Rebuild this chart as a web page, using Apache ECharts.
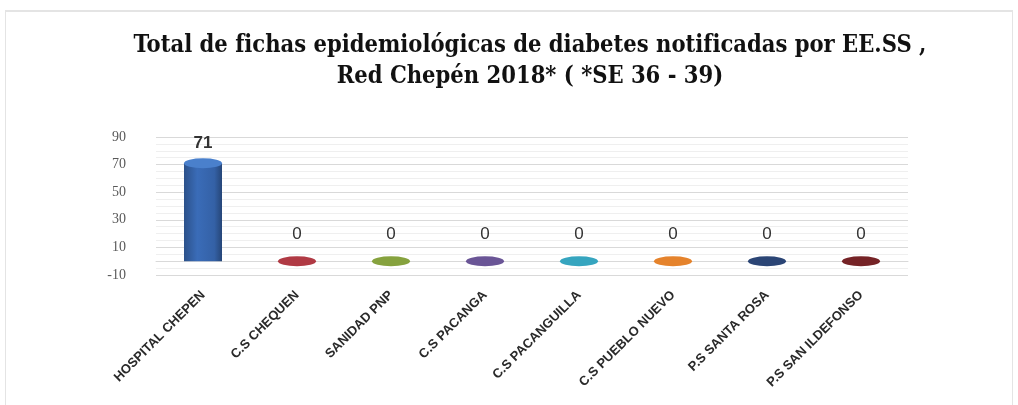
<!DOCTYPE html>
<html lang="es">
<head>
    <meta charset="UTF-8">
    <title>Fichas diabetes</title>
    <script src="https://cdn.jsdelivr.net/npm/echarts@6/dist/echarts.min.js"></script>
    <style>
        *{
            padding:0;
            margin:0;
        }
        html,body{
            width:1018px;
            height:405px;
            background:#fff;
            overflow:hidden;
        }
        #frame{
            position:absolute;
            left:5px;
            top:10px;
            width:1006px;
            height:400px;
            border-top:2px solid #e4e4e4;
            border-left:1px solid #e4e4e4;
            border-right:1px solid #e4e4e4;
        }
        #main{
            position:absolute;
            left:0;
            top:0;
            width:1018px;
            height:405px;
        }
    </style>
</head>
<body>
<div id="frame"></div>
<div id="main"></div>
<script>
    var titleLines = ['Total de fichas epidemiológicas de diabetes notificadas por EE.SS ,', 'Red Chepén 2018* ( *SE 36 - 39)'];
    var categories = ['HOSPITAL CHEPEN', 'C.S CHEQUEN', 'SANIDAD PNP', 'C.S PACANGA', 'C.S PACANGUILLA', 'C.S PUEBLO NUEVO', 'P.S SANTA ROSA', 'P.S SAN ILDEFONSO'];
    var values = [71, 0, 0, 0, 0, 0, 0, 0];
    var colors = ['#3a6cb8', '#a3303a', '#7b9636', '#5e4a8a', '#2c98b2', '#dd7a25', '#223a66', '#681b1e'];
    var topColors = ['#4a80cc', '#b03a44', '#86a23e', '#6a5596', '#36a5bf', '#e5832c', '#2b4575', '#752326'];

    function shade(c, k) {
        var n = parseInt(c.slice(1), 16);
        var r = Math.round(((n >> 16) & 255) * k), g = Math.round(((n >> 8) & 255) * k), b = Math.round((n & 255) * k);
        return 'rgb(' + r + ',' + g + ',' + b + ')';
    }

    // cuerpo del cilindro
    var barData = values.map(function (v, i) {
        return {
            value: v,
            itemStyle: {
                color: new echarts.graphic.LinearGradient(0, 0, 1, 0, [
                    {offset: 0, color: shade(colors[i], 0.75)},
                    {offset: 0.35, color: colors[i]},
                    {offset: 0.8, color: shade(colors[i], 0.9)},
                    {offset: 1, color: shade(colors[i], 0.65)}
                ])
            }
        };
    });
    // tapa superior (para los ceros es todo lo que se ve)
    var capData = values.map(function (v, i) {
        return {
            value: v,
            itemStyle: {color: topColors[i]},
            label: {
                distance: v > 0 ? 6 : 13,
                fontWeight: v > 0 ? 'bold' : 'normal'
            }
        };
    });

    var myChart = echarts.init(document.getElementById('main'));
    var option = {
        animation: false,
        title: {
            text: titleLines.join('\n'),
            left: 525,
            textAlign: 'center',
            top: 25,
            textStyle: {
                fontFamily: 'DejaVu Serif Condensed',
                fontWeight: 'bold',
                fontSize: 23.5,
                lineHeight: 31,
                color: '#111'
            }
        },
        grid: {
            left: 156,
            right: 110,
            top: 137,
            bottom: 130
        },
        xAxis: {
            type: 'category',
            data: categories,
            axisLine: {show: true, lineStyle: {color: '#d9d9d9'}},
            axisTick: {show: false},
            axisLabel: {
                rotate: 45,
                interval: 0,
                margin: 18,
                fontFamily: 'Liberation Sans',
                fontWeight: 'bold',
                fontSize: 13,
                color: '#2a2a2a'
            }
        },
        yAxis: {
            type: 'value',
            min: -10,
            max: 90,
            interval: 20,
            axisLine: {show: false},
            axisTick: {show: false},
            axisLabel: {
                fontFamily: 'Liberation Serif',
                fontSize: 14,
                color: '#595959',
                margin: 30
            },
            splitLine: {lineStyle: {color: '#d9d9d9'}},
            minorTick: {show: false, splitNumber: 4},
            minorSplitLine: {show: true, lineStyle: {color: '#efefef'}}
        },
        series: [
            {
                name: 'fichas',
                type: 'bar',
                barWidth: 38,
                data: barData,
                z: 2
            },
            {
                name: 'tapa',
                type: 'pictorialBar',
                symbol: 'circle',
                symbolSize: [38, 10],
                symbolPosition: 'end',
                symbolOffset: [0, '-50%'],
                data: capData,
                label: {
                    show: true,
                    position: 'top',
                    fontFamily: 'Liberation Sans',
                    fontSize: 17,
                    color: '#333'
                },
                z: 3
            }
        ]
    };
    myChart.setOption(option);
</script>
</body>
</html>
